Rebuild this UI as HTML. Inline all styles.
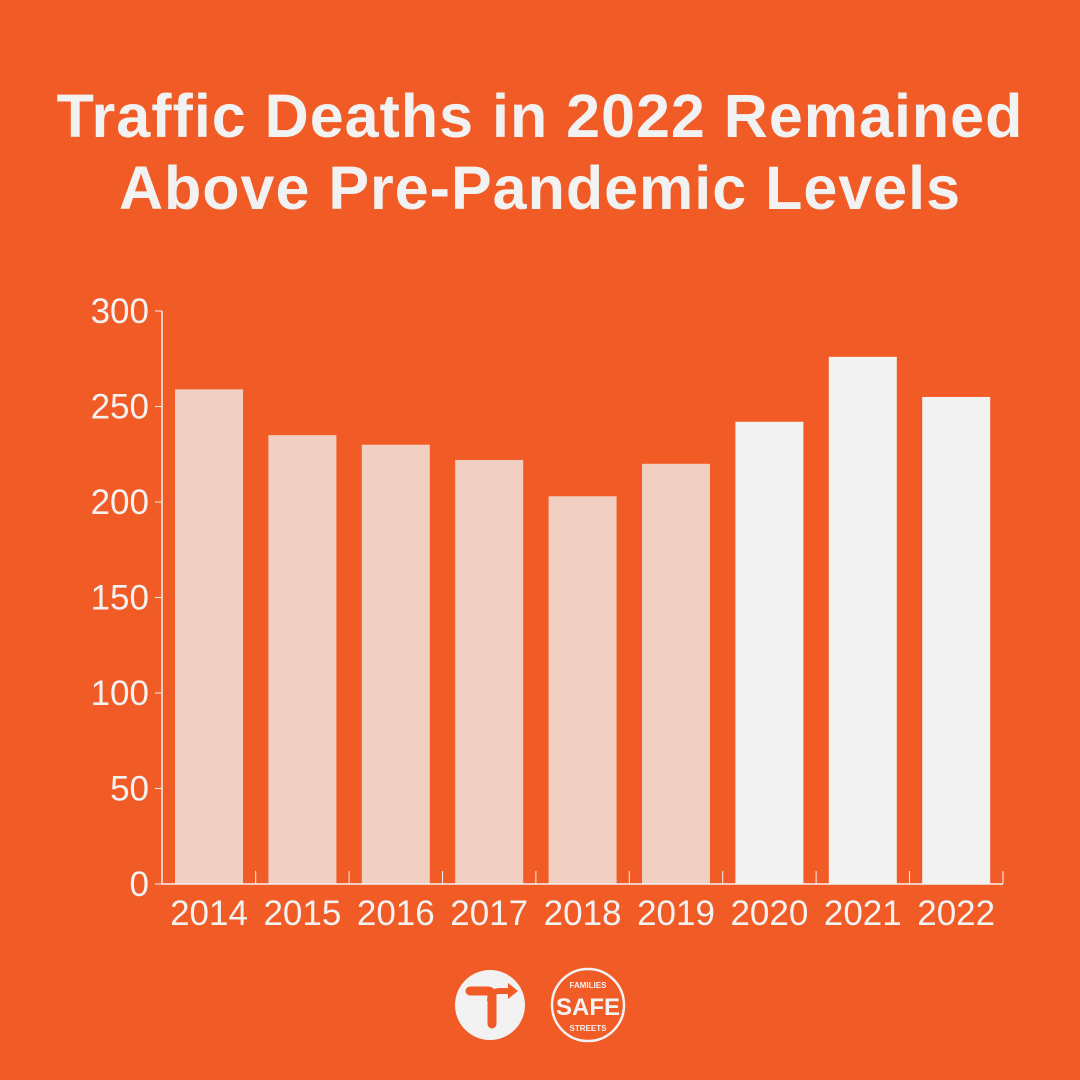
<!DOCTYPE html>
<html><head><meta charset="utf-8"><style>
body{margin:0;width:1080px;height:1080px;background:#F15B25;overflow:hidden;font-family:"Liberation Sans",sans-serif}
#title{position:absolute;top:80px;left:0;width:1080px;text-align:center;color:#F2F2F2;font-weight:bold;font-size:61px;line-height:72px;letter-spacing:1px}
svg{position:absolute;left:0;top:0}
</style></head><body>
<div id="title">Traffic Deaths in 2022 Remained<br>Above Pre-Pandemic Levels</div>
<svg id="chart" width="1080" height="1080"></svg>
<script>
const years=["2014","2015","2016","2017","2018","2019","2020","2021","2022"];
const deaths=[259,235,230,222,203,220,242,276,255];
const yTicks=[0,50,100,150,200,250,300];
const NS="http://www.w3.org/2000/svg";
const svg=document.getElementById('chart');
const y0=884,pxPer=573/300,left=162,right=1003,step=93.4,x0=175,bw=68;
const y=v=>y0-v*pxPer;
function mk(t,a){const e=document.createElementNS(NS,t);for(const k in a)e.setAttribute(k,a[k]);svg.appendChild(e);return e;}
years.forEach((yr,i)=>{
  const r=mk('rect',{x:x0+i*step,y:y(deaths[i]),width:bw,height:y0-y(deaths[i]),fill:i<6?'#F2CFC3':'#F1F2F1'});
  
  
  const t=mk('text',{x:x0+i*step+bw/2,y:925,'text-anchor':'middle',fill:'#F2F2F2','font-size':35});
  t.textContent=yr;
  
  
  if(i>0){const tk=mk('line',{x1:x0+i*step-12.7,x2:x0+i*step-12.7,y1:871,y2:y0,stroke:'#F2F2F2','stroke-width':1});
  }
});
yTicks.forEach(v=>{
  const l=mk('line',{x1:155,x2:left,y1:y(v),y2:y(v),stroke:'#F2F2F2','stroke-width':1});
  
  const t=mk('text',{x:149,y:y(v)+12,'text-anchor':'end',fill:'#F2F2F2','font-size':35});
  t.textContent=v;
  
  
});
const ya=mk('line',{x1:left,x2:left,y1:y(300),y2:y0+0.5,stroke:'#F2F2F2','stroke-width':1.5});

const xa=mk('line',{x1:left,x2:right,y1:y0,y2:y0,stroke:'#F2F2F2','stroke-width':1.5});

const x3=mk('line',{x1:right,x2:right,y1:871,y2:y0,stroke:'#F2F2F2','stroke-width':1});

</script>
<svg width="1080" height="1080" style="pointer-events:none">
<g>
<circle cx="490" cy="1005" r="35" fill="#F2F2F2"/>
<path d="M470 991 H488 Q492 991 492 997 V1024" stroke="#F15B25" stroke-width="9" fill="none" stroke-linecap="round"/>
<path d="M490 1001 Q490 991 500 991 H510" stroke="#F15B25" stroke-width="6" fill="none"/>
<path d="M508 983 L518 991 L508 999 Z" fill="#F15B25"/>
</g>
<g>
<circle cx="588" cy="1005" r="36" fill="none" stroke="#F2F2F2" stroke-width="2.5"/>
<text x="588" y="1015" text-anchor="middle" fill="#F2F2F2" font-size="24" font-weight="bold">SAFE</text>
<text x="588" y="988" text-anchor="middle" fill="#F2F2F2" font-size="8" font-weight="bold">FAMILIES</text>
<text x="588" y="1031" text-anchor="middle" fill="#F2F2F2" font-size="8" font-weight="bold">STREETS</text>
</g>
</svg>
</body></html>
